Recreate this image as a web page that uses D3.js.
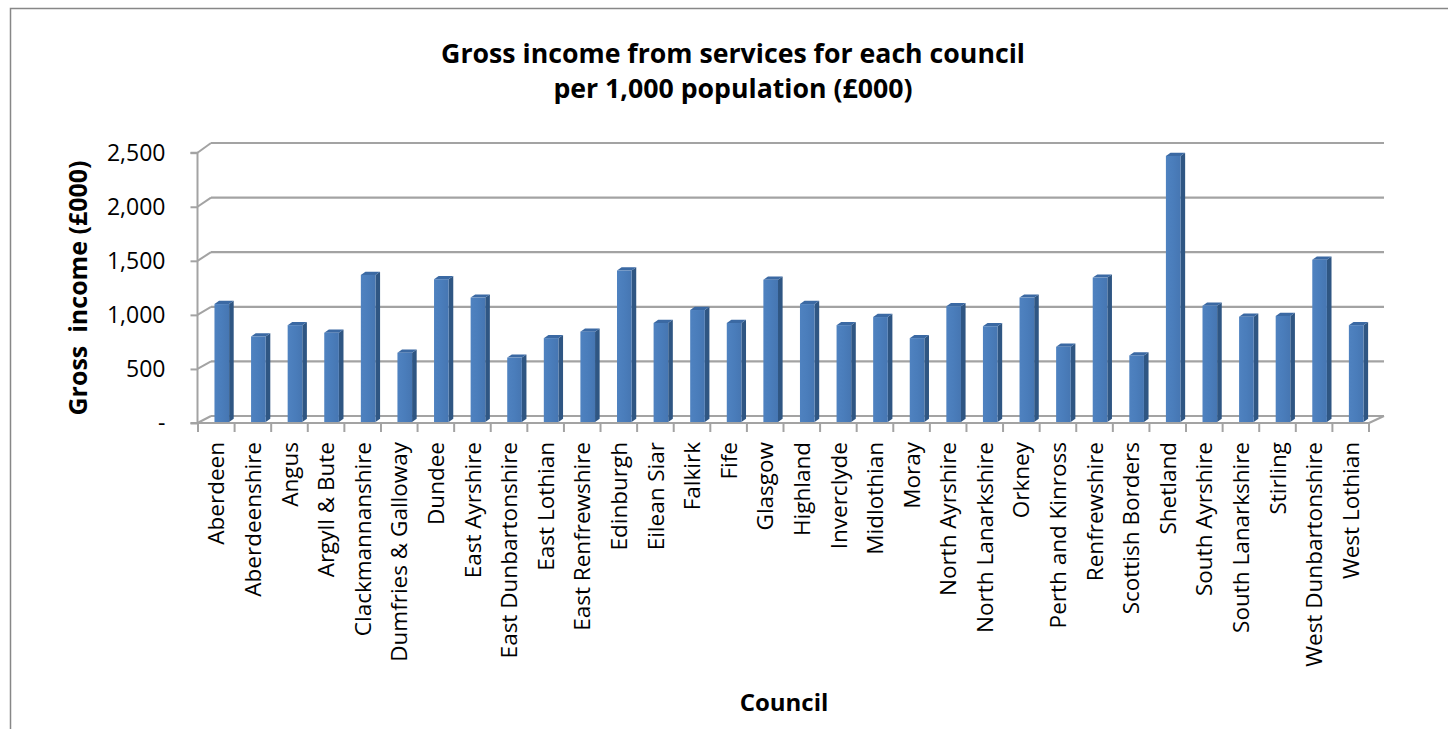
<!DOCTYPE html>
<html>
<head>
<meta charset="utf-8">
<script src="https://cdn.jsdelivr.net/npm/d3@7/dist/d3.min.js"></script>
<style>
html,body{margin:0;padding:0;background:#fff;}
svg{display:block;}
text{font-family:"Open Sans",sans-serif;fill:#000;}
</style>
</head>
<body>
<svg id="chart" width="1448" height="729"></svg>
<script>
const categories = ["Aberdeen","Aberdeenshire","Angus","Argyll & Bute","Clackmannanshire","Dumfries & Galloway","Dundee","East Ayrshire","East Dunbartonshire","East Lothian","East Renfrewshire","Edinburgh","Eilean Siar","Falkirk","Fife","Glasgow","Highland","Inverclyde","Midlothian","Moray","North Ayrshire","North Lanarkshire","Orkney","Perth and Kinross","Renfrewshire","Scottish Borders","Shetland","South Ayrshire","South Lanarkshire","Stirling","West Dunbartonshire","West Lothian"];
const values = [1100,800,905,835,1370,650,1330,1160,605,785,845,1410,925,1045,925,1325,1100,905,980,785,1080,895,1160,705,1345,625,2470,1085,983,990,1510,905];
const yTicks = [0,500,1000,1500,2000,2500];
const yTickLabels = ["-","500","1,000","1,500","2,000","2,500"];
const titleLines = ["Gross income from services for each council","per 1,000 population (£000)"];
const yTitle = "Gross  income (£000)";
const xTitle = "Council";

const svg = d3.select("#chart");

// outer border
svg.append("rect").attr("x",10.5).attr("y",8.5).attr("width",1600).attr("height",900)
  .attr("fill","none").attr("stroke","#878787").attr("stroke-width",1.5);

const defs = svg.append("defs");
const grad = defs.append("linearGradient").attr("id","front").attr("x1","0").attr("x2","1").attr("y1","0").attr("y2","0");
grad.append("stop").attr("offset","0").attr("stop-color","#4f82c0");
grad.append("stop").attr("offset","0.5").attr("stop-color","#4a7dbb");
grad.append("stop").attr("offset","1").attr("stop-color","#4676b2");

const x = d3.scaleBand().domain(categories).range([198,1369]).padding(0);
const yF = d3.scaleLinear().domain([0,2500]).range([423,152.7]);
const yB = d3.scaleLinear().domain([0,2500]).range([416,143]);
const depthX = 13;
const backX0 = 198 + depthX, backX1 = 1369 + 15;

const grid = svg.append("g");
grid.selectAll("line.bg").data(yTicks).join("line")
  .attr("x1",backX0).attr("x2",backX1)
  .attr("y1",d=>yB(d)).attr("y2",d=>yB(d))
  .attr("stroke","#a3a3a3").attr("stroke-width",2.2);
grid.selectAll("line.dg").data(yTicks).join("line")
  .attr("x1",197.5).attr("x2",backX0)
  .attr("y1",d=>yF(d)).attr("y2",d=>yB(d))
  .attr("stroke","#a3a3a3").attr("stroke-width",2);
grid.append("line").attr("x1",197.5).attr("x2",1369).attr("y1",yF(0)).attr("y2",yF(0))
  .attr("stroke","#a3a3a3").attr("stroke-width",2);
grid.append("line").attr("x1",1369).attr("x2",backX1).attr("y1",yF(0)).attr("y2",yB(0))
  .attr("stroke","#a3a3a3").attr("stroke-width",2);

// value axis (front)
const yAxis = d3.axisLeft(yF).tickValues(yTicks).tickSize(7).tickPadding(25)
  .tickFormat((d,i)=>yTickLabels[i]);
const gy = svg.append("g").attr("transform","translate(197.5,0)").call(yAxis);
gy.select(".domain").attr("stroke","#a3a3a3").attr("stroke-width",2).attr("d","M-7,"+yF(2500)+"H0V"+yF(0)+"H-7");
gy.selectAll(".tick line").attr("stroke","#a3a3a3").attr("stroke-width",2);
gy.selectAll(".tick text").attr("font-family","Open Sans").attr("font-size",23).attr("fill","#000");

// category axis
const gx = svg.append("g");
const bounds = categories.map(c=>x(c)).concat([x.range()[1]]);
gx.selectAll("line").data(bounds).join("line")
  .attr("x1",d=>d).attr("x2",d=>d).attr("y1",yF(0)).attr("y2",yF(0)+9)
  .attr("stroke","#a3a3a3").attr("stroke-width",2);
gx.selectAll("text").data(categories).join("text")
  .attr("transform",d=>`translate(${x(d)+x.bandwidth()/2},442) rotate(-90)`)
  .attr("text-anchor","end").attr("dy","0.36em")
  .attr("font-size",22.5).text(d=>d);

// bars
const bw = x.bandwidth();
const fw = bw*0.4, off = bw*0.45, dx = 4.6, dy = -3.2;
const bars = svg.append("g").selectAll("g").data(categories).join("g");
const y0 = yF(0)-1;
bars.append("path").attr("fill","#2f5683")
  .attr("d",(c,i)=>{const xl=x(c)+off+fw, yt=yF(values[i]);
    return `M${xl},${y0}L${xl},${yt}L${xl+dx},${yt+dy}L${xl+dx},${y0+dy}Z`;});
bars.append("path").attr("fill","#3b69a3")
  .attr("d",(c,i)=>{const xl=x(c)+off, yt=yF(values[i]);
    return `M${xl},${yt}L${xl+fw},${yt}L${xl+fw+dx},${yt+dy}L${xl+dx},${yt+dy}Z`;});
bars.append("rect").attr("fill","url(#front)")
  .attr("x",c=>x(c)+off).attr("width",fw)
  .attr("y",(c,i)=>yF(values[i])).attr("height",(c,i)=>y0-yF(values[i]));

// titles
svg.append("text").attr("x",733).attr("y",63).attr("text-anchor","middle")
  .attr("font-weight","bold").attr("font-size",26.7).text(titleLines[0]);
svg.append("text").attr("x",733).attr("y",98).attr("text-anchor","middle")
  .attr("font-weight","bold").attr("font-size",26.7).text(titleLines[1]);
svg.append("text").attr("transform","translate(87,288) rotate(-90)").attr("text-anchor","middle")
  .attr("font-weight","bold").attr("font-size",25).style("white-space","pre").text(yTitle);
svg.append("text").attr("x",784).attr("y",711).attr("text-anchor","middle")
  .attr("font-weight","bold").attr("font-size",24).text(xTitle);
</script>
</body>
</html>
